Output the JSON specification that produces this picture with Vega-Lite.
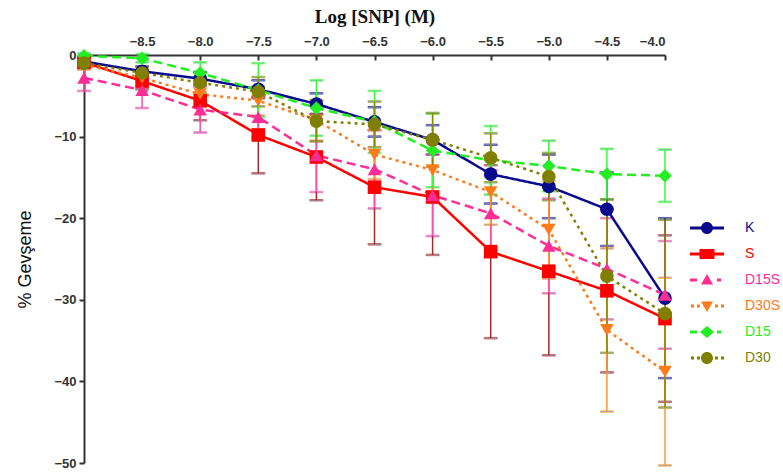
{
  "$schema": "https://vega.github.io/schema/vega-lite/v6.json",
  "width": 581,
  "height": 408,
  "autosize": {"type": "none"},
  "padding": {"left": 84, "top": 55, "right": 118, "bottom": 11},
  "background": "white",
  "config": {
    "view": {"stroke": null},
    "axis": {"grid": false, "domainColor": "#333", "domainWidth": 2, "tickColor": "#333", "tickWidth": 2,
      "labelFont": "Liberation Sans", "labelFontWeight": "bold", "labelFontSize": 13, "labelColor": "#333"}
  },
  "data": {"values": [
    {"s": "K", "x": -9.0, "y": -0.8, "e": 0.3}, {"s": "K", "x": -8.5, "y": -2.0, "e": 0.6}, {"s": "K", "x": -8.0, "y": -2.9, "e": 0.8}, {"s": "K", "x": -7.5, "y": -4.2, "e": 1.1}, {"s": "K", "x": -7.0, "y": -6.0, "e": 1.3}, {"s": "K", "x": -6.5, "y": -8.2, "e": 1.8}, {"s": "K", "x": -6.0, "y": -10.4, "e": 1.8}, {"s": "K", "x": -5.5, "y": -14.6, "e": 3.6}, {"s": "K", "x": -5.0, "y": -16.1, "e": 3.9}, {"s": "K", "x": -4.5, "y": -18.9, "e": 4.5}, {"s": "K", "x": -4.0, "y": -29.8, "e": 9.8},
    {"s": "S", "x": -9.0, "y": -0.9, "e": 0.5}, {"s": "S", "x": -8.5, "y": -3.2, "e": 1.0}, {"s": "S", "x": -8.0, "y": -5.6, "e": 2.4}, {"s": "S", "x": -7.5, "y": -9.8, "e": 4.7}, {"s": "S", "x": -7.0, "y": -12.5, "e": 5.3}, {"s": "S", "x": -6.5, "y": -16.2, "e": 7.0}, {"s": "S", "x": -6.0, "y": -17.4, "e": 7.1}, {"s": "S", "x": -5.5, "y": -24.1, "e": 10.6}, {"s": "S", "x": -5.0, "y": -26.5, "e": 10.3}, {"s": "S", "x": -4.5, "y": -28.9, "e": 10.0}, {"s": "S", "x": -4.0, "y": -32.3, "e": 10.2},
    {"s": "D15S", "x": -9.0, "y": -2.8, "e": 1.6}, {"s": "D15S", "x": -8.5, "y": -4.3, "e": 2.2}, {"s": "D15S", "x": -8.0, "y": -6.7, "e": 2.8}, {"s": "D15S", "x": -7.5, "y": -7.6, "e": 2.5}, {"s": "D15S", "x": -7.0, "y": -12.3, "e": 4.5}, {"s": "D15S", "x": -6.5, "y": -14.0, "e": 4.8}, {"s": "D15S", "x": -6.0, "y": -17.2, "e": 5.0}, {"s": "D15S", "x": -5.5, "y": -19.4, "e": 5.3}, {"s": "D15S", "x": -5.0, "y": -23.4, "e": 5.8}, {"s": "D15S", "x": -4.5, "y": -26.2, "e": 6.2}, {"s": "D15S", "x": -4.0, "y": -29.4, "e": 6.6},
    {"s": "D30S", "x": -9.0, "y": -1.2, "e": 0.6}, {"s": "D30S", "x": -8.5, "y": -2.8, "e": 1.0}, {"s": "D30S", "x": -8.0, "y": -4.8, "e": 1.5}, {"s": "D30S", "x": -7.5, "y": -5.6, "e": 1.8}, {"s": "D30S", "x": -7.0, "y": -8.0, "e": 2.5}, {"s": "D30S", "x": -6.5, "y": -12.2, "e": 3.0}, {"s": "D30S", "x": -6.0, "y": -14.1, "e": 3.3}, {"s": "D30S", "x": -5.5, "y": -16.8, "e": 4.0}, {"s": "D30S", "x": -5.0, "y": -21.4, "e": 6.0}, {"s": "D30S", "x": -4.5, "y": -33.7, "e": 10.0}, {"s": "D30S", "x": -4.0, "y": -38.8, "e": 11.5},
    {"s": "D15", "x": -9.0, "y": -0.1, "e": 0.3}, {"s": "D15", "x": -8.5, "y": -0.4, "e": 0.5}, {"s": "D15", "x": -8.0, "y": -2.2, "e": 1.3}, {"s": "D15", "x": -7.5, "y": -4.3, "e": 3.3}, {"s": "D15", "x": -7.0, "y": -6.5, "e": 3.4}, {"s": "D15", "x": -6.5, "y": -8.2, "e": 3.8}, {"s": "D15", "x": -6.0, "y": -11.7, "e": 4.5}, {"s": "D15", "x": -5.5, "y": -12.9, "e": 4.2}, {"s": "D15", "x": -5.0, "y": -13.6, "e": 3.1}, {"s": "D15", "x": -4.5, "y": -14.6, "e": 3.1}, {"s": "D15", "x": -4.0, "y": -14.8, "e": 3.2},
    {"s": "D30", "x": -9.0, "y": -1.0, "e": 0.5}, {"s": "D30", "x": -8.5, "y": -2.2, "e": 0.8}, {"s": "D30", "x": -8.0, "y": -3.4, "e": 1.2}, {"s": "D30", "x": -7.5, "y": -4.5, "e": 1.8}, {"s": "D30", "x": -7.0, "y": -8.1, "e": 2.5}, {"s": "D30", "x": -6.5, "y": -8.5, "e": 2.8}, {"s": "D30", "x": -6.0, "y": -10.4, "e": 3.3}, {"s": "D30", "x": -5.5, "y": -12.6, "e": 3.0}, {"s": "D30", "x": -5.0, "y": -14.9, "e": 2.9}, {"s": "D30", "x": -4.5, "y": -27.1, "e": 9.4}, {"s": "D30", "x": -4.0, "y": -31.7, "e": 11.5}
  ]},
  "encoding": {
    "x": {"field": "x", "type": "quantitative",
      "scale": {"domain": [-9, -4], "nice": false, "zero": false},
      "axis": {"orient": "top", "values": [-8.5, -8, -7.5, -7, -6.5, -6, -5.5, -5, -4.5, -4], "format": ".1f",
        "tickSize": -5, "labelPadding": 12, "title": "Log [SNP] (M)", "titleFont": "Liberation Serif",
        "titleFontSize": 19, "titleFontWeight": "bold", "titleColor": "#111", "titlePadding": 9}},
    "y": {"field": "y", "type": "quantitative",
      "scale": {"domain": [-50, 0], "nice": false, "zero": false},
      "axis": {"values": [-50, -40, -30, -20, -10, 0], "tickSize": 5, "labelPadding": 3,
        "title": "% Gevşeme", "titleFont": "Liberation Sans", "titleFontSize": 18, "titleFontWeight": "normal",
        "titleColor": "#111", "titlePadding": 19}}
  },
  "layer": [
    {
      "mark": {"type": "errorbar", "ticks": {"size": 13, "thickness": 1.5}, "rule": {"strokeWidth": 1.5}},
      "encoding": {
        "yError": {"field": "e"},
        "stroke": {"field": "s", "type": "nominal", "legend": null,
          "scale": {"range": ["#33ff33", "#ff4da6", "#8b8b00", "#ff9933", "#1a1a99", "#a52a2a"]}}
      }
    },
    {
      "mark": {"type": "line", "strokeWidth": 2.5},
      "encoding": {
        "color": {"field": "s", "type": "nominal", "title": null,
          "scale": {"domain": ["K", "S", "D15S", "D30S", "D15", "D30"],
            "range": ["#0a0a8c", "#ff0000", "#ff2d95", "#ff7a1a", "#22ee22", "#808000"]},
          "legend": {"orient": "none", "legendX": 613, "legendY": 163, "padding": 0,
            "symbolSize": 400, "labelOffset": 28, "rowPadding": 9, "labelFont": "Liberation Sans",
            "labelFontSize": 14, "labelLimit": 200,
            "encode": {
              "symbols": {"update": {
                "fill": {"scale": "color", "field": "value"},
                "strokeWidth": {"value": 0},
                "opacity": {"value": 1},
                "shape": {"signal": "datum.value === 'K' ? 'M-1.7,-0.15H1.7V0.15H-1.7Z M0.6,0A0.6,0.6,0,1,1,-0.6,0A0.6,0.6,0,1,1,0.6,0Z' : datum.value === 'S' ? 'M-1.7,-0.15H1.7V0.15H-1.7Z M-0.75,-0.5H0.75V0.5H-0.75Z' : datum.value === 'D15S' ? 'M-1.7,-0.15H-1.0V0.15H-1.7Z M1.0,-0.15H1.4V0.15H1.0Z M0,-0.6L0.6,0.45H-0.6Z' : datum.value === 'D30S' ? 'M-1.6,-0.15h0.3v0.3h-0.3Z M-1.0,-0.15h0.3v0.3h-0.3Z M0.8,-0.15h0.3v0.3h-0.3Z M1.4,-0.15h0.3v0.3h-0.3Z M-0.6,-0.45H0.6L0,0.6Z' : datum.value === 'D15' ? 'M-1.7,-0.15H-1.0V0.15H-1.7Z M1.0,-0.15H1.4V0.15H1.0Z M0,-0.6L0.7,0L0,0.6L-0.7,0Z' : 'M-1.6,-0.15h0.3v0.3h-0.3Z M-1.0,-0.15h0.3v0.3h-0.3Z M0.8,-0.15h0.3v0.3h-0.3Z M1.4,-0.15h0.3v0.3h-0.3Z M0.6,0A0.6,0.6,0,1,1,-0.6,0A0.6,0.6,0,1,1,0.6,0Z'"}
              }},
              "labels": {"update": {"fill": {"scale": "color", "field": "value"}}}
            }}},
        "strokeDash": {"field": "s", "type": "nominal", "legend": null,
          "scale": {"range": [[9, 5], [9, 5], [3, 4], [3, 4], [1, 0], [1, 0]]}}
      }
    },
    {
      "mark": {"type": "point", "filled": true, "opacity": 1, "size": 185},
      "encoding": {
        "color": {"field": "s", "type": "nominal", "title": null},
        "shape": {"field": "s", "type": "nominal", "legend": null,
          "scale": {"range": ["diamond", "triangle-up", "circle", "triangle-down", "circle", "square"]}}
      }
    }
  ]
}
